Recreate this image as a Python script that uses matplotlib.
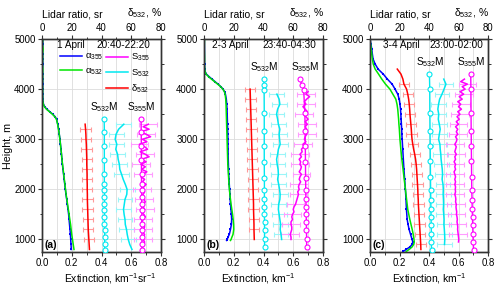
import numpy as np
import matplotlib
matplotlib.use('Agg')
import matplotlib.pyplot as plt
from matplotlib.lines import Line2D
from matplotlib.ticker import MultipleLocator, FormatStrFormatter

plt.rcParams['font.family'] = ['Liberation Sans', 'DejaVu Sans']
plt.rcParams['mathtext.fontset'] = 'custom'
plt.rcParams['mathtext.rm'] = 'Liberation Sans'
plt.rcParams['mathtext.it'] = 'Liberation Sans:italic'
plt.rcParams['mathtext.default'] = 'regular'

# ---------------- data ----------------
panel_labels = ['(a)', '(b)', '(c)']
dates = ['1 April', '2-3 April', '3-4 April']
times = ['20:40-22:20', '23:40-04:30', '23:00-02:00']

# extinction profiles (km^-1)
h_ext_a = [5000, 4900, 4800, 4700, 4600, 4500, 4400, 4300, 4200, 4100,
           4000, 3900, 3800, 3750, 3700, 3650, 3600, 3550, 3500, 3450,
           3400, 3300, 3200, 3100, 3000, 2900, 2800, 2700, 2600, 2500,
           2400, 2300, 2200, 2100, 2000, 1900, 1800, 1700, 1600, 1500,
           1400, 1300, 1200, 1100, 1000, 900, 800]
a355_a = [.004, .006, .003, .005, .004, .006, .003, .005, .004, .006,
          .004, .005, .006, .007, .010, .018, .032, .052, .072, .088,
          .098, .106, .112, .116, .121, .124, .128, .131, .134, .137,
          .141, .145, .149, .153, .157, .161, .166, .170, .175, .179,
          .182, .185, .188, .191, .193, .195, .197]
a532_a = [.006, .003, .008, .004, .005, .003, .006, .004, .005, .003,
          .005, .004, .005, .006, .009, .016, .030, .050, .070, .086,
          .097, .105, .111, .116, .120, .124, .127, .131, .134, .138,
          .142, .146, .150, .154, .158, .162, .167, .172, .177, .182,
          .187, .192, .196, .200, .205, .210, .215]

h_ext_b = [5000, 4800, 4600, 4500, 4400, 4350, 4300, 4250, 4200, 4150,
           4100, 4050, 4000, 3950, 3900, 3800, 3700, 3600, 3500, 3400,
           3300, 3200, 3100, 3000, 2900, 2800, 2700, 2600, 2500, 2400,
           2300, 2200, 2100, 2000, 1900, 1800, 1700, 1600, 1500, 1400,
           1300, 1200, 1100, 1050, 1000, 980]
a355_b = [.002, .003, .003, .004, .005, .008, .016, .034, .054, .074,
          .094, .113, .128, .138, .144, .150, .153, .155, .156, .157,
          .158, .159, .160, .161, .161, .162, .162, .163, .164, .165,
          .166, .168, .170, .172, .174, .176, .178, .181, .184, .186,
          .184, .178, .170, .162, .156, .152]
a532_b = [.003, .002, .004, .003, .005, .007, .014, .030, .050, .071,
          .092, .112, .127, .137, .142, .146, .148, .149, .150, .151,
          .152, .153, .154, .155, .156, .157, .158, .159, .160, .162,
          .164, .166, .168, .171, .174, .178, .182, .187, .192, .196,
          .199, .200, .195, .188, .182, .178]

h_ext_c = [5000, 4900, 4800, 4700, 4600, 4500, 4400, 4300, 4200, 4100,
           4000, 3900, 3800, 3700, 3600, 3500, 3400, 3300, 3200, 3100,
           3000, 2800, 2600, 2400, 2200, 2000, 1800, 1600, 1400, 1300,
           1200, 1100, 1000, 950, 900, 850, 800, 760]
a355_c = [.000, .006, .012, .016, .021, .035, .055, .090, .118, .150,
          .170, .188, .198, .203, .207, .209, .211, .213, .215, .216,
          .218, .222, .226, .230, .235, .240, .244, .247, .252, .258,
          .265, .275, .285, .290, .285, .270, .245, .225]
a532_c = [.000, .004, .008, .012, .016, .022, .035, .058, .080, .105,
          .135, .155, .175, .183, .188, .191, .194, .196, .199, .201,
          .203, .209, .216, .224, .232, .240, .248, .256, .270, .278,
          .286, .293, .298, .300, .296, .285, .265, .245]

# depolarization ratio delta532 (%)
h_d_a = [3300, 3200, 3100, 3000, 2900, 2800, 2700, 2600, 2500, 2400,
         2300, 2200, 2100, 2000, 1900, 1800, 1700, 1600, 1500, 1400,
         1300, 1200, 1100, 1000, 900, 800]
d_a = [29.0, 29.3, 29.5, 29.6, 29.8, 29.9, 30.0, 30.1, 30.1, 30.2,
       30.3, 30.3, 30.4, 30.4, 30.5, 30.5, 30.6, 30.7, 30.8, 30.9,
       31.0, 31.1, 31.3, 31.5, 31.7, 31.9]
h_d_b = [4000, 3900, 3800, 3700, 3600, 3500, 3400, 3300, 3200, 3100,
         3000, 2900, 2800, 2700, 2600, 2500, 2400, 2300, 2200, 2100,
         2000, 1900, 1800, 1700, 1600, 1500, 1400, 1300, 1200, 1100, 1000]
d_b = [31.0, 31.1, 31.2, 31.3, 31.4, 31.5, 31.6, 31.7, 31.8, 31.9,
       32.0, 32.1, 32.2, 32.3, 32.4, 32.5, 32.6, 32.7, 32.8, 32.9,
       33.0, 33.1, 33.2, 33.3, 33.3, 33.4, 33.5, 33.6, 33.6, 33.7, 33.8]
h_d_c = [4400, 4300, 4200, 4100, 4000, 3900, 3800, 3700, 3600, 3500,
         3400, 3300, 3200, 3100, 3000, 2900, 2800, 2700, 2600, 2500,
         2400, 2300, 2200, 2100, 2000, 1900, 1800, 1700, 1600, 1500,
         1400, 1300, 1200, 1100, 1000, 900, 800]
d_c = [18.5, 21.0, 22.3, 23.0, 24.8, 25.6, 26.2, 26.6, 26.9, 27.1,
       27.4, 27.7, 28.0, 28.2, 28.5, 29.0, 29.6, 30.3, 30.9, 31.3,
       31.6, 31.8, 32.0, 32.2, 32.4, 32.5, 32.7, 32.8, 33.0, 33.2,
       33.4, 33.6, 33.8, 34.0, 34.2, 34.4, 34.5]

# retrieved lidar ratios (sr)
h_s532_a = [3300, 3200, 3100, 3000, 2900, 2800, 2700, 2600, 2500, 2400,
            2300, 2200, 2100, 2000, 1900, 1800, 1700, 1600, 1500, 1400,
            1300, 1200, 1100, 1000, 900, 800]
s532_a = [55.0, 51.5, 49.8, 49.2, 50.3, 49.6, 50.8, 51.2, 52.0, 52.3,
          53.5, 54.6, 56.0, 57.2, 57.0, 55.8, 55.3, 54.8, 55.2, 55.8,
          56.0, 56.8, 57.3, 58.0, 59.0, 60.5]
h_s355_a = [3300, 3250, 3200, 3150, 3100, 3050, 3000, 2950, 2900, 2850,
            2800, 2750, 2700, 2650, 2600, 2550, 2500, 2450, 2400, 2350,
            2300, 2250, 2200, 2150, 2100, 2050, 2000, 1950, 1900, 1850,
            1800, 1750, 1700, 1650, 1600, 1550, 1500, 1450, 1400, 1350,
            1300, 1250, 1200, 1150, 1100, 1050, 1000, 950, 900, 850, 800]
s355_a = [71.5, 68.0, 72.0, 66.5, 70.0, 73.0, 67.5, 70.5, 65.5, 69.0,
          71.0, 66.0, 69.5, 72.0, 67.0, 70.0, 66.5, 69.5, 67.0, 70.5,
          68.0, 66.5, 69.0, 67.5, 70.0, 68.5, 67.0, 69.0, 68.0, 66.5,
          68.5, 69.5, 67.5, 68.0, 69.0, 67.0, 68.5, 69.5, 68.0, 67.0,
          68.5, 69.0, 68.0, 67.5, 69.0, 68.5, 68.0, 69.0, 68.5, 67.5, 68.0]

h_s532_b = [3900, 3800, 3700, 3600, 3500, 3400, 3300, 3200, 3100, 3000,
            2900, 2800, 2700, 2600, 2500, 2400, 2300, 2200, 2100, 2000,
            1900, 1800, 1700, 1600, 1500, 1400, 1300, 1200, 1100, 1000]
s532_b = [49.0, 50.5, 51.0, 49.5, 48.8, 49.5, 50.0, 51.0, 50.5, 50.8,
          51.2, 50.0, 49.5, 48.8, 49.2, 49.8, 50.0, 49.5, 50.2, 50.8,
          51.2, 51.0, 50.2, 50.0, 50.5, 51.0, 51.5, 51.2, 51.8, 52.2]
h_s355_b = [3950, 3900, 3850, 3800, 3750, 3700, 3650, 3600, 3550, 3500,
            3450, 3400, 3350, 3300, 3250, 3200, 3150, 3100, 3050, 3000,
            2950, 2900, 2850, 2800, 2750, 2700, 2650, 2600, 2550, 2500,
            2450, 2400, 2350, 2300, 2250, 2200, 2150, 2100, 2050, 2000,
            1950, 1900, 1850, 1800, 1750, 1700, 1650, 1600, 1550, 1500,
            1450, 1400, 1350, 1300, 1250, 1200, 1150, 1100, 1050, 1000]
s355_b = [70.0, 68.5, 71.0, 69.0, 67.5, 68.5, 66.5, 68.0, 69.5, 67.0,
          68.5, 70.0, 68.0, 69.5, 68.0, 69.0, 67.5, 69.0, 68.0, 67.5,
          68.5, 66.5, 67.0, 65.5, 66.0, 64.5, 65.5, 64.0, 65.0, 64.5,
          65.5, 65.0, 64.0, 65.5, 64.5, 64.0, 65.0, 64.0, 63.5, 64.0,
          63.0, 63.5, 63.0, 62.5, 62.0, 61.5, 60.5, 60.0, 60.5, 59.5,
          59.0, 59.5, 58.5, 58.5, 59.0, 59.0, 58.5, 58.0, 58.5, 58.5]

h_s532_c = [4200, 4100, 4000, 3900, 3800, 3700, 3600, 3500, 3400, 3300,
            3200, 3100, 3000, 2900, 2800, 2700, 2600, 2500, 2400, 2300,
            2200, 2100, 2000, 1900, 1800, 1700, 1600, 1500, 1400, 1300,
            1200, 1100, 1000, 900]
s532_c = [50.0, 51.5, 50.2, 48.8, 47.2, 46.5, 46.0, 46.6, 46.3, 47.0,
          47.6, 47.0, 46.5, 47.4, 47.6, 48.0, 48.2, 48.6, 49.0, 49.2,
          48.9, 49.5, 49.7, 49.6, 49.8, 49.9, 49.7, 50.0, 50.2, 50.1,
          50.4, 50.6, 50.7, 50.5]
h_s355_c = [4200, 4150, 4100, 4050, 4000, 3950, 3900, 3850, 3800, 3750,
            3700, 3650, 3600, 3550, 3500, 3450, 3400, 3350, 3300, 3250,
            3200, 3150, 3100, 3050, 3000, 2950, 2900, 2850, 2800, 2750,
            2700, 2650, 2600, 2550, 2500, 2450, 2400, 2350, 2300, 2250,
            2200, 2150, 2100, 2050, 2000, 1950, 1900, 1850, 1800, 1750,
            1700, 1650, 1600, 1550, 1500, 1450, 1400, 1350, 1300, 1250,
            1200, 1150, 1100, 1050, 1000, 950]
s355_c = [64.0, 61.5, 66.0, 62.5, 64.5, 61.0, 63.5, 60.5, 62.5, 59.5,
          61.5, 60.0, 62.0, 59.5, 61.0, 59.0, 60.5, 58.5, 60.0, 58.0,
          59.5, 58.5, 59.5, 58.0, 59.0, 58.5, 57.5, 58.5, 58.0, 57.5,
          58.5, 57.5, 58.0, 57.0, 58.0, 57.5, 58.0, 57.0, 57.5, 58.0,
          57.5, 58.0, 57.5, 58.0, 57.8, 58.0, 57.5, 58.0, 58.2, 58.0,
          58.5, 58.3, 58.5, 58.8, 58.6, 59.0, 59.2, 59.0, 59.3, 59.5,
          59.4, 59.6, 59.8, 60.0, 60.2, 60.0]

# model lidar ratios (sr)
hm_a = [3400, 3150, 2870, 2580, 2300, 2110, 1980, 1850, 1710, 1580,
        1450, 1310, 1180, 1050, 910, 780]
s532m_a = [41.8, 41.9, 41.9, 41.9, 41.9, 41.9, 42.0, 42.0, 42.0, 42.0,
           42.0, 42.0, 42.1, 42.1, 42.1, 42.1]
s355m_a = [66.6, 66.7, 66.8, 66.8, 66.9, 66.9, 67.0, 67.0, 67.0, 67.1,
           67.1, 67.1, 67.2, 67.2, 67.2, 67.3]
hm_b = [4200, 4080, 3990, 3530, 3160, 2870, 2550, 2230, 1990, 1810,
        1650, 1500, 1350, 1180, 1010, 850]
s532m_b = [40.3, 40.4, 40.4, 40.5, 40.5, 40.5, 40.5, 40.6, 40.6, 40.6,
           40.6, 40.6, 40.7, 40.7, 40.7, 40.7]
s355m_b = [64.5, 65.8, 67.0, 67.8, 68.0, 68.1, 68.2, 68.3, 68.4, 68.5,
           68.6, 68.7, 68.8, 68.9, 69.0, 69.0]
hm_c = [4300, 4010, 3530, 3170, 2870, 2560, 2250, 1990, 1780, 1610,
        1450, 1280, 1110, 950, 780]
s532m_c = [40.3, 40.5, 40.6, 40.7, 40.8, 40.9, 41.0, 41.1, 41.2, 41.3,
           41.4, 41.5, 41.6, 41.6, 41.7]
s355m_c = [68.3, 68.4, 68.5, 68.6, 68.7, 68.8, 68.9, 69.0, 69.2, 69.3,
           69.5, 69.6, 69.8, 70.0, 70.2]

# heights where error bars are drawn
eh_d_a = [3200, 3000, 2800, 2600, 2400, 2200, 2000, 1800, 1600, 1400, 1200, 1000]
eh_s_a = [3300, 3100, 2900, 2700, 2500, 2300, 2000, 1800, 1600, 1400, 1200, 1000]
eh_d_b = [4000, 3800, 3600, 3400, 3200, 3000, 2800, 2600, 2400, 2200, 2000, 1800, 1600, 1400, 1200]
eh_s_b = [3900, 3700, 3500, 3300, 3100, 2900, 2700, 2500, 2300, 2100, 1900, 1700, 1500, 1300, 1100]
eh_d_c = [4100, 3900, 3700, 3500, 3300, 3100, 2900, 2700, 2500, 2300, 2100, 1900, 1700, 1500, 1300, 1100, 900]
eh_s_c = [4100, 3900, 3700, 3500, 3300, 3100, 2900, 2700, 2500, 2300, 2100, 1900, 1700, 1500, 1300, 1100, 900]
err_d = 3.5
err_s532 = 5.0
err_s355 = 6.0

panels = [
    dict(he=h_ext_a, a355=a355_a, a532=a532_a, hd=h_d_a, d=d_a,
         h532=h_s532_a, s532=s532_a, h355=h_s355_a, s355=s355_a,
         hm=hm_a, s532m=s532m_a, s355m=s355m_a, ehd=eh_d_a, ehs=eh_s_a),
    dict(he=h_ext_b, a355=a355_b, a532=a532_b, hd=h_d_b, d=d_b,
         h532=h_s532_b, s532=s532_b, h355=h_s355_b, s355=s355_b,
         hm=hm_b, s532m=s532m_b, s355m=s355m_b, ehd=eh_d_b, ehs=eh_s_b),
    dict(he=h_ext_c, a355=a355_c, a532=a532_c, hd=h_d_c, d=d_c,
         h532=h_s532_c, s532=s532_c, h355=h_s355_c, s355=s355_c,
         hm=hm_c, s532m=s532m_c, s355m=s355m_c, ehd=eh_d_c, ehs=eh_s_c),
]

BLUE = '#0000ff'
GREEN = '#00e600'
RED = '#ff0000'
CYAN = '#00e8f0'
MAG = '#ff00ff'
ERED = '#ff9a9a'
ECYAN = '#9af5f8'
EMAG = '#ff9cff'
SPINE = '#333333'

fig = plt.figure(figsize=(5.0, 2.87), dpi=100)
positions = [[0.084, 0.122, 0.238, 0.742],
             [0.408, 0.122, 0.238, 0.742],
             [0.740, 0.122, 0.236, 0.742]]
xlabels = ['Extinction, km$^{-1}$sr$^{-1}$', 'Extinction, km$^{-1}$', 'Extinction, km$^{-1}$']
xlabel_x = [0.57, 0.46, 0.5]
date_x = [0.126, 0.067, 0.11]
time_x = [0.46, 0.49, 0.50]
TICKFS = 6.9

def errbars(ax, h, v, eh, err, color):
    h = np.asarray(h); v = np.asarray(v)
    m = np.isin(h, eh)
    ax.errorbar(v[m], h[m], xerr=err, fmt='none', ecolor=color,
                elinewidth=0.8, capsize=1.8, capthick=0.8, zorder=2)

for i, p in enumerate(panels):
    ax = fig.add_axes(positions[i])
    ax.set_xlim(0, 0.8)
    ax.set_ylim(750, 5000)
    ax.set_axisbelow(True)
    ax.grid(True, which='both', axis='x', color='#dcdcdc', lw=0.6)
    ax.grid(True, which='major', axis='y', color='#dcdcdc', lw=0.6)
    ax.xaxis.set_major_locator(MultipleLocator(0.2))
    ax.xaxis.set_minor_locator(MultipleLocator(0.1))
    ax.xaxis.set_major_formatter(FormatStrFormatter('%.1f'))
    ax.yaxis.set_major_locator(MultipleLocator(1000))
    ax.yaxis.set_minor_locator(MultipleLocator(500))
    ax.tick_params(axis='both', which='major', direction='out', length=3,
                   width=0.8, labelsize=TICKFS, pad=1.5, colors=SPINE,
                   labelcolor='black')
    ax.tick_params(axis='both', which='minor', direction='out', length=1.8,
                   width=0.7, colors=SPINE)
    ax.tick_params(axis='y', which='both', right=True)
    ax.tick_params(axis='x', which='both', top=False)
    for s in ax.spines.values():
        s.set_color(SPINE); s.set_linewidth(1.0)

    ax.plot(p['a355'], p['he'], color=BLUE, lw=1.1, marker='s', ms=1.6,
            mew=0, zorder=3)
    ax.plot(p['a532'], p['he'], color=GREEN, lw=1.1, zorder=4)
    ax.set_xlabel(xlabels[i], fontsize=7.5, labelpad=2)
    ax.xaxis.label.set_x(xlabel_x[i])
    if i == 0:
        ax.set_ylabel('Height, m', fontsize=7.7)
        ax.yaxis.set_label_coords(-0.24, 0.5)

    ax2 = ax.twiny()
    ax2.set_xlim(0, 80)
    ax2.xaxis.set_major_locator(MultipleLocator(20))
    ax2.xaxis.set_minor_locator(MultipleLocator(10))
    ax2.tick_params(axis='x', which='major', direction='out', length=3,
                    width=0.8, labelsize=TICKFS, pad=1.5, colors=SPINE,
                    labelcolor='black')
    ax2.tick_params(axis='x', which='minor', direction='out', length=1.8,
                    width=0.7, colors=SPINE)
    for s in ax2.spines.values():
        s.set_color(SPINE); s.set_linewidth(1.0)

    # error bars
    errbars(ax2, p['hd'], p['d'], p['ehd'], err_d, ERED)
    errbars(ax2, p['h532'], p['s532'], p['ehs'], err_s532, ECYAN)
    errbars(ax2, p['h355'], p['s355'], p['ehs'], err_s355, EMAG)
    # lines
    ax2.plot(p['d'], p['hd'], color=RED, lw=1.1, zorder=4)
    ax2.plot(p['s532'], p['h532'], color=CYAN, lw=1.1, zorder=4)
    ax2.plot(p['s355'], p['h355'], color=MAG, lw=1.1, zorder=4)
    ax2.plot(p['s532m'], p['hm'], color=CYAN, lw=1.0, marker='o', ms=3.6,
             mfc='white', mec=CYAN, mew=0.8, zorder=5)
    ax2.plot(p['s355m'], p['hm'], color=MAG, lw=1.0, marker='o', ms=3.6,
             mfc='white', mec=MAG, mew=0.8, zorder=5)
    ax2.annotate('S$_{532}$M', xy=(p['s532m'][3], p['hm'][0]), xytext=(0, 9),
                 textcoords='offset points', ha='center', va='center', fontsize=7.3)
    ax2.annotate('S$_{355}$M', xy=(p['s355m'][3], p['hm'][0]), xytext=(0, 9),
                 textcoords='offset points', ha='center', va='center', fontsize=7.3)

    ax2.text(0.0, 1.113, 'Lidar ratio, sr', transform=ax2.transAxes,
             ha='left', va='center', fontsize=7.5)
    ax2.text(1.01, 1.12, 'δ$_{532}$, %', transform=ax2.transAxes,
             ha='right', va='center', fontsize=7.5)
    ax2.text(date_x[i], 0.972, dates[i], transform=ax2.transAxes,
             ha='left', va='center', fontsize=7.2)
    ax2.text(time_x[i], 0.972, times[i], transform=ax2.transAxes,
             ha='left', va='center', fontsize=7.2)
    ax2.text(0.02, 0.035, panel_labels[i], transform=ax2.transAxes,
             ha='left', va='center', fontsize=7.5, fontweight='bold')

    if i == 0:
        h1 = [Line2D([], [], color=BLUE, lw=1.1), Line2D([], [], color=GREEN, lw=1.1)]
        leg1 = ax2.legend(h1, ['α$_{355}$', 'α$_{532}$'], loc='upper left',
                          bbox_to_anchor=(0.155, 0.94), frameon=False,
                          fontsize=6.8, handlelength=2.3, handletextpad=0.35,
                          labelspacing=0.4, borderpad=0, borderaxespad=0)
        ax2.add_artist(leg1)
        h2 = [Line2D([], [], color=MAG, lw=1.1), Line2D([], [], color=CYAN, lw=1.1),
              Line2D([], [], color=RED, lw=1.1)]
        ax2.legend(h2, ['S$_{355}$', 'S$_{532}$', 'δ$_{532}$'], loc='upper left',
                   bbox_to_anchor=(0.54, 0.94), frameon=False,
                   fontsize=6.8, handlelength=2.3, handletextpad=0.35,
                   labelspacing=0.4, borderpad=0, borderaxespad=0)

fig.savefig('out.png', dpi=100)
